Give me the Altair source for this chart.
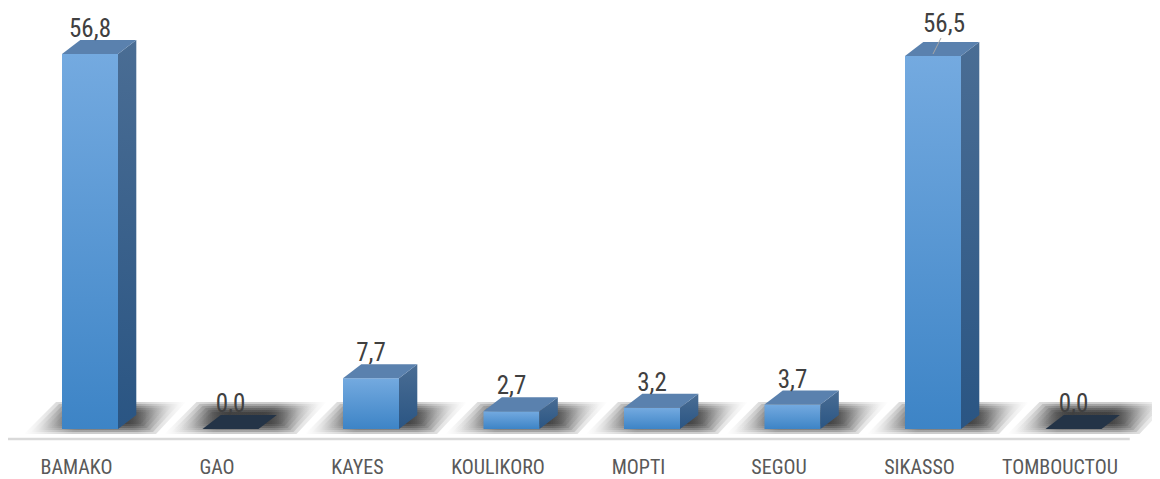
import altair as alt
import pandas as pd

regions = ["BAMAKO", "GAO", "KAYES", "KOULIKORO", "MOPTI", "SEGOU", "SIKASSO", "TOMBOUCTOU"]
values = [56.8, 0.0, 7.7, 2.7, 3.2, 3.7, 56.5, 0.0]

# geometry constants (pixel-based, converted to data units)
PX_X = 140.5          # px per category step
PX_Y = 6.602          # px per value unit
FL = -14 / PX_X       # front face left offset
FR = 42 / PX_X        # front face right offset
DX = 18.3 / PX_X      # depth offset x
DY = 14 / PX_Y        # depth offset y
XDOM = [-68 / PX_X, 1076 / PX_X]
YDOM = [-11 / PX_Y, 421 / PX_Y]
label_shift = {"SIKASSO": (11 / PX_X, 7 / PX_Y)}
FONT = "Roboto Condensed"
# shadow blur levels: (vertical inset px, horizontal inset px)
SHADOW_LEVELS = [(0, 0), (2, 5), (4, 10), (6, 15), (8, 20), (10, 25)]

front, side, top, shadow, labels, leader = [], [], [], [], [], []
for i, (r, v) in enumerate(zip(regions, values)):
    if v > 0:
        front.append(dict(region=r, fx=i + FL, fx2=i + FR, fy=0, fy2=v))
        side.append(dict(region=r, sx=i + FR, slo=0, shi=v))
        side.append(dict(region=r, sx=i + FR + DX, slo=DY, shi=v + DY))
    z = "zero" if v == 0 else "pos"
    top.append(dict(region=r, ty=v, tl=i + FL, tr=i + FR, z=z))
    top.append(dict(region=r, ty=v + DY, tl=i + FL + DX, tr=i + FR + DX, z=z))
    for k, (tv, th) in enumerate(SHADOW_LEVELS):
        shadow.append(dict(region=r, lvl=k, hy=(-5 + tv) / PX_Y,
                           hl=i + (-52 + th + tv) / PX_X, hr=i + (80 - th + tv) / PX_X))
        shadow.append(dict(region=r, lvl=k, hy=(27 - tv) / PX_Y,
                           hl=i + (-20 + th - tv) / PX_X, hr=i + (110 - th - tv) / PX_X))
    sx, sy = label_shift.get(r, (0, 0))
    labels.append(dict(region=r, v=v, lx=i + (FL + FR) / 2 + sx, ly=v + DY + sy))
    if r in label_shift:
        leader.append(dict(ax=i + 14 / PX_X, ay=v + 2 / PX_Y, ax2=i + 22 / PX_X, ay2=v + DY + sy - 3 / PX_Y))

xs = alt.Scale(domain=XDOM, nice=False, zero=False)
ys = alt.Scale(domain=YDOM, nice=False, zero=False)

label_expr = "[" + ",".join("'" + r + "'" for r in regions) + "][datum.value]"
xaxis = alt.Axis(values=list(range(len(regions))), labelExpr=label_expr, title=None,
                 domain=False, ticks=False, grid=False, labelFont=FONT,
                 labelFontSize=20, labelColor="#595959", labelPadding=17)


def X(field):
    return alt.X(field, scale=xs, axis=xaxis, title=None, stack=None)


def Y(field):
    return alt.Y(field, scale=ys, axis=None, title=None, stack=None)


shadow_grad = alt.Gradient(
    gradient="linear", x1=0, x2=1, y1=0, y2=0,
    stops=[alt.GradientStop(offset=0, color="rgba(0,0,0,0)"),
           alt.GradientStop(offset=0.3, color="rgba(0,0,0,1)"),
           alt.GradientStop(offset=0.7, color="rgba(0,0,0,1)"),
           alt.GradientStop(offset=1, color="rgba(0,0,0,0)")])

shadow_layer = alt.Chart(pd.DataFrame(shadow)).mark_area(
    orient="horizontal", fill=shadow_grad, opacity=0.2
).encode(
    y=Y("hy:Q"),
    x=X("hl:Q"),
    x2="hr:Q",
    detail=["region:N", "lvl:N"],
)

front_grad = alt.Gradient(
    gradient="linear", x1=0, x2=0, y1=0, y2=1,
    stops=[alt.GradientStop(offset=0, color="#74aae0"),
           alt.GradientStop(offset=1, color="#3d84c6")])
front_layer = alt.Chart(pd.DataFrame(front)).mark_rect(fill=front_grad).encode(
    x=X("fx:Q"),
    x2="fx2:Q",
    y=Y("fy:Q"),
    y2="fy2:Q",
)

side_grad = alt.Gradient(
    gradient="linear", x1=0, x2=0, y1=0, y2=1,
    stops=[alt.GradientStop(offset=0, color="#4a6d94"),
           alt.GradientStop(offset=1, color="#2a5583")])
side_layer = alt.Chart(pd.DataFrame(side)).mark_area(fill=side_grad).encode(
    x=X("sx:Q"),
    y=Y("slo:Q"),
    y2="shi:Q",
    detail="region:N",
)

top_layer = alt.Chart(pd.DataFrame(top)).mark_area(orient="horizontal").encode(
    y=Y("ty:Q"),
    x=X("tl:Q"),
    x2="tr:Q",
    detail="region:N",
    color=alt.Color("z:N", scale=alt.Scale(domain=["pos", "zero"], range=["#5a81ae", "#243447"]),
                    legend=None),
)

label_layer = alt.Chart(pd.DataFrame(labels)).transform_calculate(
    lab="replace(format(datum.v, '.1f'), '.', ',')"
).mark_text(
    font=FONT, fontSize=25, color="#404040", baseline="alphabetic", dy=-3
).encode(
    x=X("lx:Q"),
    y=Y("ly:Q"),
    text="lab:N",
)

leader_layer = alt.Chart(pd.DataFrame(leader)).mark_rule(color="#a6a6a6", strokeWidth=1).encode(
    x=X("ax:Q"),
    x2="ax2:Q",
    y=Y("ay:Q"),
    y2="ay2:Q",
)

axis_df = pd.DataFrame([dict(a=-0.5, b=len(regions) - 0.5, c=-10 / PX_Y)])
axis_layer = alt.Chart(axis_df).mark_rule(color="#d9d9d9", strokeWidth=2.5).encode(
    x=X("a:Q"),
    x2="b:Q",
    y=Y("c:Q"),
)

chart = alt.layer(
    shadow_layer, axis_layer, front_layer, side_layer, top_layer, label_layer, leader_layer
).properties(
    width=1144, height=432,
    background="white",
    autosize=alt.AutoSizeParams(type="none"),
    padding={"left": 0, "top": 0, "right": 0, "bottom": 38},
).configure_view(stroke=None)

chart.save("out.html", embed_options={"renderer": "svg", "actions": False})
